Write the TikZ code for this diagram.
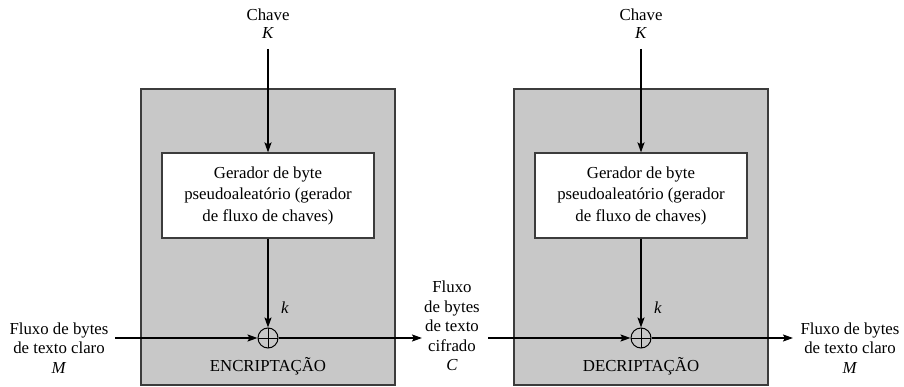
\documentclass[tikz,border=0pt]{standalone}
\usepackage{fontspec}
\setmainfont{Liberation Serif}
\usetikzlibrary{arrows.meta}
\definecolor{boxgray}{RGB}{200,200,200}
\definecolor{edgegray}{RGB}{60,60,60}
\tikzset{
  graybox/.style={draw=edgegray, line width=1.1pt, fill=boxgray, minimum width=254pt, minimum height=296pt, inner sep=0pt},
  genbox/.style={draw=edgegray, line width=1.1pt, fill=white, minimum width=212pt, minimum height=85pt, inner sep=0pt, align=center, font=\fontsize{16.8}{21.5}\selectfont},
  txt/.style={align=center, inner sep=0pt, font=\fontsize{16.8}{19.5}\selectfont},
  xorc/.style={circle, draw=black, line width=1pt, minimum size=20pt, inner sep=0pt, path picture={\draw[line width=1pt] (path picture bounding box.north) -- (path picture bounding box.south) (path picture bounding box.west) -- (path picture bounding box.east);}},
  arr/.style={line width=1.8pt, -{Stealth[length=10pt,width=7pt,inset=2pt]}},
}
\begin{document}
\begin{tikzpicture}[x=1pt,y=-1pt]
\useasboundingbox (0,0) rectangle (904,387);
\node[graybox] (enc) at (268,237) {};
\node[graybox] (dec) at (641,237) {};
\node[genbox] (gen1) at (268,195.5) {Gerador de byte\\pseudoaleatório (gerador\\de fluxo de chaves)};
\node[genbox] (gen2) at (641,195.5) {Gerador de byte\\pseudoaleatório (gerador\\de fluxo de chaves)};
\node[xorc] (xor1) at (268,338) {};
\node[xorc] (xor2) at (641,338) {};
\node[txt, font=\fontsize{16.8}{18}\selectfont] (key1) at (268,24) {Chave\\\textit{K}};
\node[txt, font=\fontsize{16.8}{18}\selectfont] (key2) at (641,24) {Chave\\\textit{K}};
\coordinate (k1top) at (268,49);
\coordinate (k2top) at (641,49);
\node[txt] (k1) at (285,308) {\textit{k}};
\node[txt] (k2) at (658,308) {\textit{k}};
\node[txt] (enclbl) at (268,366) {ENCRIPTAÇÃO};
\node[txt] (declbl) at (641,366) {DECRIPTAÇÃO};
\node[txt] (plain1) at (59,348) {Fluxo de bytes\\de texto claro\\\textit{M}};
\node[txt] (ciph) at (452,326) {Fluxo\\de bytes\\de texto\\cifrado\\\textit{C}};
\node[txt] (plain2) at (850,348) {Fluxo de bytes\\de texto claro\\\textit{M}};
\coordinate (in1) at (115,338);
\coordinate (out1) at (422,338);
\coordinate (in2) at (488,338);
\coordinate (out2) at (793,338);
\draw[arr] (k1top) -- (gen1.north);
\draw[arr] (gen1.south) -- (xor1.north);
\draw[arr] (in1) -- (xor1.west);
\draw[arr] (xor1.east) -- (out1);
\draw[arr] (k2top) -- (gen2.north);
\draw[arr] (gen2.south) -- (xor2.north);
\draw[arr] (in2) -- (xor2.west);
\draw[arr] (xor2.east) -- (out2);
\end{tikzpicture}
\end{document}
